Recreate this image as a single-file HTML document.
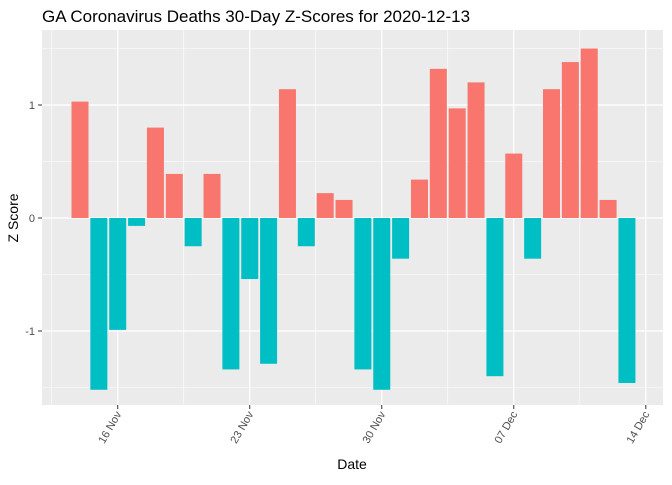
<!DOCTYPE html>
<html><head><meta charset="utf-8"><style>
body{margin:0;background:#fff;font-family:"Liberation Sans",sans-serif}
</style></head><body>
<svg id="c" width="672" height="480" xmlns="http://www.w3.org/2000/svg">
<rect width="672" height="480" fill="#fff"/>
<text x="42" y="22" font-size="17" fill="#000">GA Coronavirus Deaths 30-Day Z-Scores for 2020-12-13</text>
<rect id="panel" x="42" y="30" width="621" height="375" fill="#EBEBEB"/>
<g id="grid"></g><g id="bars"></g><g id="axes"></g>
<text x="352" y="469" font-size="14" text-anchor="middle">Date</text>
<text transform="translate(18,218) rotate(-90)" font-size="14" text-anchor="middle">Z Score</text>
</svg>
<script>
const startDay = 14; // Nov 14 = day index 0
const values = [1.03,-1.52,-0.99,-0.07,0.80,0.39,-0.25,0.39,-1.34,-0.54,-1.29,1.14,-0.25,0.22,0.16,-1.34,-1.52,-0.36,0.34,1.32,0.97,1.20,-1.40,0.57,-0.36,1.14,1.38,1.50,0.16,-1.46];
const xTickDays = [2,9,16,23,30];
const xTickLabels = ["16 Nov","23 Nov","30 Nov","07 Dec","14 Dec"];
const yTicks = [-1,0,1];
const yMinor = [-1.5,-0.5,0.5,1.5];
const NS="http://www.w3.org/2000/svg";
const x = d => 80 + d*18.86;
const y = v => 218 - v*113;
const L=42,R=663,T=30,B=405;
function mk(tag,attrs,parent){const e=document.createElementNS(NS,tag);for(const k in attrs)e.setAttribute(k,attrs[k]);parent.appendChild(e);return e;}
const g=document.getElementById('grid'),bg=document.getElementById('bars'),ax=document.getElementById('axes');
yMinor.forEach(v=>{const l=mk('line',{x1:L,x2:R,y1:y(v),y2:y(v),stroke:'#fff','stroke-width':0.6},g);

});
xTickDays.forEach(d=>{[d-3.5].forEach(m=>{const l=mk('line',{x1:x(m),x2:x(m),y1:T,y2:B,stroke:'#fff','stroke-width':0.6},g);

});});
{const m=xTickDays[xTickDays.length-1]+3.5;if(x(m)<R){const l=mk('line',{x1:x(m),x2:x(m),y1:T,y2:B,stroke:'#fff','stroke-width':0.6},g);

}}
yTicks.forEach(v=>{const l=mk('line',{x1:L,x2:R,y1:y(v),y2:y(v),stroke:'#fff','stroke-width':1.2},g);


mk('line',{x1:L-4,x2:L,y1:y(v),y2:y(v),stroke:'#333'},ax);
const t=mk('text',{x:L-7,y:y(v)+4,'font-size':11,'text-anchor':'end',fill:'#4D4D4D'},ax);t.textContent=v;

});
xTickDays.forEach((d,i)=>{const l=mk('line',{x1:x(d),x2:x(d),y1:T,y2:B,stroke:'#fff','stroke-width':1.2},g);


mk('line',{x1:x(d),x2:x(d),y1:B,y2:B+4,stroke:'#333'},ax);
const t=mk('text',{x:0,y:0,'font-size':11,'text-anchor':'end',fill:'#4D4D4D',transform:`translate(${x(d)+4},${B+9}) rotate(-60)`},ax);t.textContent=xTickLabels[i];

});
values.forEach((v,i)=>{const y0=y(0),yv=y(v);const r=mk('rect',{x:x(i)-8.5,width:17,y:Math.min(y0,yv),height:Math.abs(yv-y0),fill:v>=0?'#F8766D':'#00BFC4'},bg);

});
</script>
</body></html>
